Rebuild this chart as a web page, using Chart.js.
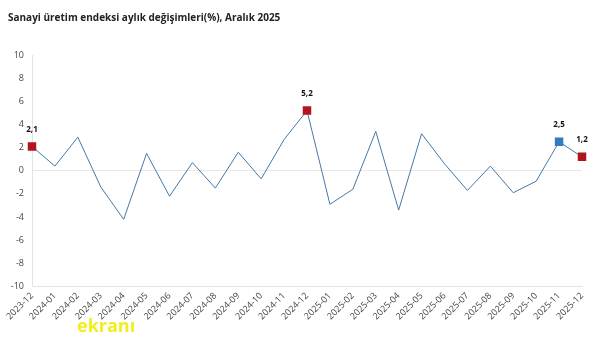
<!DOCTYPE html>
<html>
<head>
<meta charset="utf-8">
<script src="https://cdn.jsdelivr.net/npm/chart.js@4.4.1/dist/chart.umd.min.js"></script>
<style>
  html, body { margin: 0; padding: 0; background: #fff; }
  #wrap { position: relative; width: 601px; height: 342px; }
  #mark { position: absolute; left: 77px; top: 314px; font: bold 18px "Open Sans", sans-serif; color: #f2ee1c; line-height: 22px; }
</style>
</head>
<body>
<div id="wrap">
  <canvas id="lineChart" width="601" height="342"></canvas>
  <div id="mark">ekranı</div>
</div>
<script>
// months and monthly change (%)
var months = ['2023-12', '2024-01', '2024-02', '2024-03', '2024-04', '2024-05', '2024-06',
  '2024-07', '2024-08', '2024-09', '2024-10', '2024-11', '2024-12', '2025-01', '2025-02',
  '2025-03', '2025-04', '2025-05', '2025-06', '2025-07', '2025-08', '2025-09', '2025-10',
  '2025-11', '2025-12'];
var changes = [2.1, 0.4, 2.9, -1.4, -4.2, 1.5, -2.2, 0.7, -1.5, 1.6, -0.7, 2.7, 5.2, -2.9, -1.6,
  3.4, -3.4, 3.2, 0.6, -1.7, 0.4, -1.9, -0.9, 2.5, 1.2];
var redMonths = ['2023-12', '2024-12', '2025-12'];
var blueMonths = ['2025-11'];
var yTicks = [-10, -8, -6, -4, -2, 0, 2, 4, 6, 8, 10];

function markerColor(i) {
    if (redMonths.indexOf(months[i]) >= 0) return '#b3141d';
    if (blueMonths.indexOf(months[i]) >= 0) return '#2f7cc1';
    return 'transparent';
}
function isMarked(i) {
    return redMonths.indexOf(months[i]) >= 0 || blueMonths.indexOf(months[i]) >= 0;
}

// draws the value above marked points
var valueLabels = {
    id: 'valueLabels',
    afterDatasetsDraw: function (chart) {
        var ctx = chart.ctx;
        var meta = chart.getDatasetMeta(0);
        ctx.save();
        ctx.font = 'bold 8px "Open Sans", sans-serif';
        ctx.fillStyle = '#111';
        ctx.textAlign = 'center';
        ctx.textBaseline = 'middle';
        meta.data.forEach(function (pt, i) {
            if (!isMarked(i)) return;
            ctx.fillText(changes[i].toFixed(1).replace('.', ','), pt.x, pt.y - 17);
        });
        ctx.restore();
    }
};

var ctx = document.getElementById('lineChart').getContext('2d');
var lineChart = new Chart(ctx, {
    type: 'line',
    data: {
        labels: months,
        datasets: [{
            data: changes,
            borderColor: '#4378a8',
            borderWidth: 1,
            fill: false,
            tension: 0,
            pointStyle: 'rect',
            pointRadius: months.map(function (m, i) { return isMarked(i) ? 6 : 0; }),
            pointBackgroundColor: months.map(function (m, i) { return markerColor(i); }),
            pointBorderWidth: 0
        }]
    },
    options: {
        responsive: false,
        animation: false,
        layout: { padding: { left: 8, right: 19, bottom: 16 } },
        plugins: {
            legend: { display: false },
            tooltip: { enabled: false },
            title: {
                display: true,
                text: 'Sanayi üretim endeksi aylık değişimleri(%), Aralık 2025',
                align: 'start',
                color: '#222',
                font: { family: '"Open Sans", sans-serif', size: 10, weight: 'bold' },
                padding: { top: 12, bottom: 31 }
            }
        },
        scales: {
            x: {
                offset: false,
                grid: { display: false, drawTicks: false },
                border: { display: true, color: '#e3e3e3' },
                ticks: {
                    color: '#444',
                    font: { family: '"Open Sans", sans-serif', size: 9 },
                    minRotation: 45,
                    maxRotation: 45,
                    autoSkip: false,
                    padding: 4
                }
            },
            y: {
                min: -10,
                max: 10,
                afterBuildTicks: function (scale) {
                    scale.ticks = yTicks.map(function (v) { return { value: v }; });
                },
                afterFit: function (scale) { scale.width = 24; },
                grid: {
                    drawTicks: false,
                    color: function (c) { return c.tick && c.tick.value === 0 ? '#e8e8e8' : 'transparent'; }
                },
                border: { display: true, color: '#e3e3e3' },
                ticks: {
                    color: '#444',
                    font: { family: '"Open Sans", sans-serif', size: 9 },
                    padding: 8
                }
            }
        }
    },
    plugins: [valueLabels]
});
</script>
</body>
</html>
